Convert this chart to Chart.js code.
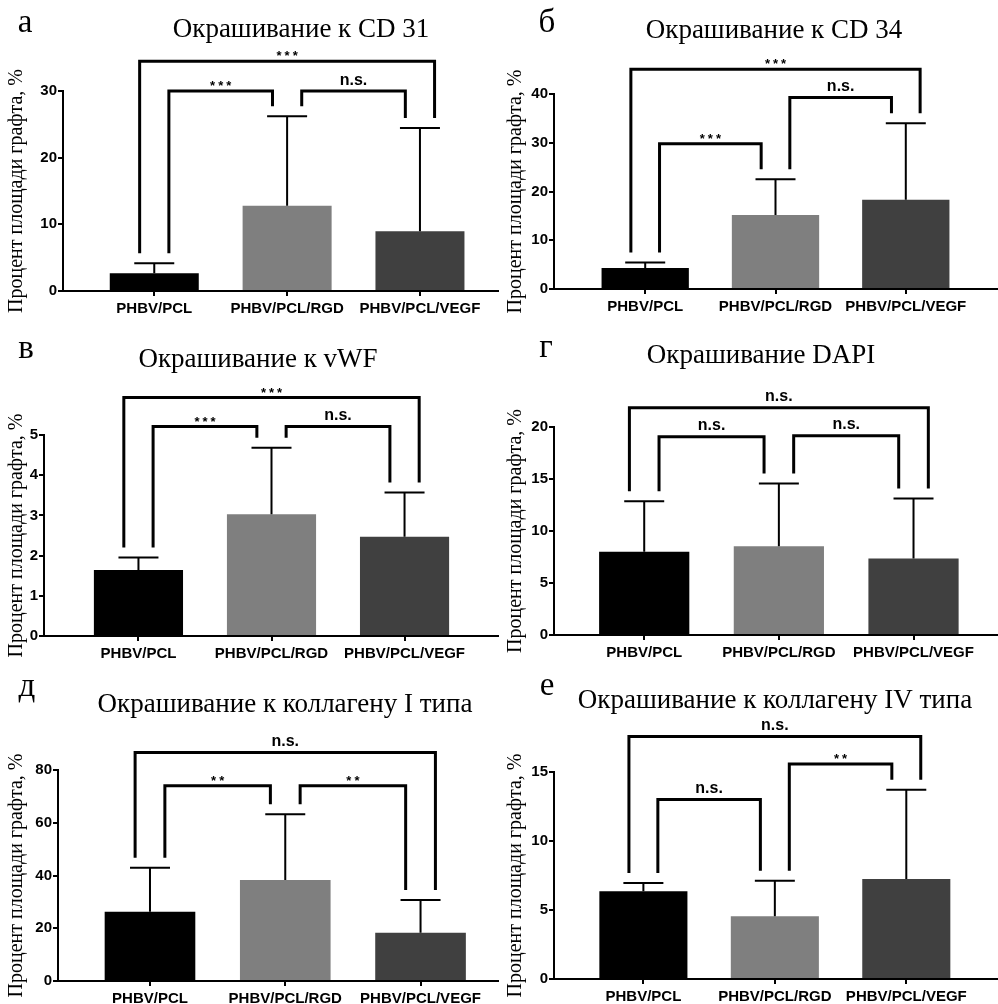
<!DOCTYPE html>
<html>
<head>
<meta charset="utf-8">
<script src="https://cdn.jsdelivr.net/npm/chart.js@4.4.1/dist/chart.umd.min.js"></script>
<style>
  html, body { margin: 0; padding: 0; background: #fff; }
  #wrap { position: relative; width: 998px; height: 1004px; overflow: hidden; }
  canvas { position: absolute; }
</style>
</head>
<body>
<div id="wrap">
  <canvas id="pA" width="499" height="330" style="left:0;top:0"></canvas>
  <canvas id="pB" width="499" height="330" style="left:499px;top:0"></canvas>
  <canvas id="pV" width="499" height="340" style="left:0;top:330px"></canvas>
  <canvas id="pG" width="499" height="340" style="left:499px;top:330px"></canvas>
  <canvas id="pD" width="499" height="334" style="left:0;top:670px"></canvas>
  <canvas id="pE" width="499" height="334" style="left:499px;top:670px"></canvas>
</div>
<script>
let groups = ["PHBV/PCL", "PHBV/PCL/RGD", "PHBV/PCL/VEGF"];
let barColors = ["#000000", "#7f7f7f", "#404040"];
let yTitle = "Процент площади графта, %";

// mean, top of SD bar, y ticks, comparisons [from, to, level, mark]
let cd31Mean = [2.65, 12.8, 8.95];
let cd31Err = [4.15, 26.2, 24.45];
let cd31Ticks = [0, 10, 20, 30];
let cd31Pairs = [[0, 2, 34.45, "***"], [0, 1, 30, "***"], [1, 2, 30, "n.s."]];

let cd34Mean = [4.3, 15.2, 18.3];
let cd34Err = [5.45, 22.5, 34.0];
let cd34Ticks = [0, 10, 20, 30, 40];
let cd34Pairs = [[0, 2, 45.1, "***"], [0, 1, 29.8, "***"], [1, 2, 39.3, "n.s."]];

let vwfMean = [1.64, 3.03, 2.47];
let vwfErr = [1.95, 4.68, 3.57];
let vwfTicks = [0, 1, 2, 3, 4, 5];
let vwfPairs = [[0, 2, 5.93, "***"], [0, 1, 5.21, "***"], [1, 2, 5.21, "n.s."]];

let dapiMean = [8.0, 8.54, 7.36];
let dapiErr = [12.86, 14.56, 13.12];
let dapiTicks = [0, 5, 10, 15, 20];
let dapiPairs = [[0, 2, 21.85, "n.s."], [0, 1, 19.06, "n.s."], [1, 2, 19.17, "n.s."]];

let col1Mean = [26.3, 38.3, 18.3];
let col1Err = [42.96, 63.2, 30.7];
let col1Ticks = [0, 20, 40, 60, 80];
let col1Pairs = [[0, 2, 86.6, "n.s."], [0, 1, 74.05, "**"], [1, 2, 74.05, "**"]];

let col4Mean = [6.35, 4.54, 7.25];
let col4Err = [6.96, 7.12, 13.72];
let col4Ticks = [0, 5, 10, 15];
let col4Pairs = [[0, 2, 17.58, "n.s."], [0, 1, 13.0, "n.s."], [1, 2, 15.58, "**"]];

const panels = [
    { id: "pA", letter: "а", title: "Окрашивание к CD 31", mean: cd31Mean, err: cd31Err, ticks: cd31Ticks, pairs: cd31Pairs,
      left: 63, top: 91, bottom: 291, right: 499, xmin: -0.687, xmax: 2.595, tx: 301, ty: 37, lx: 25, ly: 32 },
    { id: "pB", letter: "б", title: "Окрашивание к CD 34", mean: cd34Mean, err: cd34Err, ticks: cd34Ticks, pairs: cd34Pairs,
      left: 55, top: 94, bottom: 289, right: 498, xmin: -0.70, xmax: 2.70, tx: 275, ty: 38, lx: 48, ly: 32 },
    { id: "pV", letter: "в", title: "Окрашивание к vWF", mean: vwfMean, err: vwfErr, ticks: vwfTicks, pairs: vwfPairs,
      left: 44, top: 105, bottom: 306, right: 499, xmin: -0.71, xmax: 2.71, tx: 258, ty: 37, lx: 26, ly: 28 },
    { id: "pG", letter: "г", title: "Окрашивание DAPI", mean: dapiMean, err: dapiErr, ticks: dapiTicks, pairs: dapiPairs,
      left: 55, top: 97, bottom: 305, right: 498, xmin: -0.67, xmax: 2.62, tx: 262, ty: 33, lx: 47, ly: 27 },
    { id: "pD", letter: "д", title: "Окрашивание к коллагену I типа", mean: col1Mean, err: col1Err, ticks: col1Ticks, pairs: col1Pairs,
      left: 58, top: 100, bottom: 311, right: 499, xmin: -0.68, xmax: 2.58, tx: 285, ty: 42, lx: 27, ly: 26 },
    { id: "pE", letter: "е", title: "Окрашивание к коллагену IV типа", mean: col4Mean, err: col4Err, ticks: col4Ticks, pairs: col4Pairs,
      left: 55, top: 102, bottom: 309, right: 498, xmin: -0.68, xmax: 2.69, tx: 276, ty: 38, lx: 48, ly: 25 }
];

const SANS = "'Liberation Sans', Arial, sans-serif";
const SERIF = "'Liberation Serif', 'Times New Roman', serif";

// error bars, significance brackets, headings
const extras = {
    id: "extras",
    afterDatasetsDraw(chart, args, p) {
        const ctx = chart.ctx;
        const x = chart.scales.x, y = chart.scales.y;
        ctx.save();
        ctx.strokeStyle = "#000";
        ctx.lineWidth = 2;
        p.mean.forEach((m, i) => {
            const cx = x.getPixelForValue(i);
            const top = y.getPixelForValue(p.err[i]);
            ctx.beginPath();
            ctx.moveTo(cx, y.getPixelForValue(m));
            ctx.lineTo(cx, top);
            ctx.moveTo(cx - 20, top);
            ctx.lineTo(cx + 20, top);
            ctx.stroke();
        });
        ctx.lineWidth = 3;
        ctx.fillStyle = "#000";
        ctx.textAlign = "center";
        ctx.textBaseline = "alphabetic";
        p.pairs.forEach(([a, b, level, mark]) => {
            const shift = (b - a === 1) ? 0.11 : -0.11;
            const xa = x.getPixelForValue(a + shift);
            const xb = x.getPixelForValue(b - shift);
            const yl = y.getPixelForValue(level);
            const ya = y.getPixelForValue(p.err[a]) - 10;
            const yb = y.getPixelForValue(p.err[b]) - 10;
            ctx.beginPath();
            ctx.moveTo(xa, ya);
            ctx.lineTo(xa, yl);
            ctx.lineTo(xb, yl);
            ctx.lineTo(xb, yb);
            ctx.stroke();
            const mid = (xa + xb) / 2;
            if (mark.indexOf("*") >= 0) {
                ctx.font = "bold 13px " + SANS;
                ctx.letterSpacing = "3px";
                ctx.fillText(mark, mid + 1.5, yl - 1);
            } else {
                ctx.font = "bold 16px " + SANS;
                ctx.letterSpacing = "0px";
                ctx.fillText(mark, mid, yl - 6.5);
            }
        });
        ctx.letterSpacing = "0px";
        ctx.font = "27px " + SERIF;
        ctx.fillText(p.title, p.tx, p.ty);
        ctx.font = "33px " + SERIF;
        ctx.fillText(p.letter, p.lx, p.ly);
        ctx.restore();
    }
};

function makeChart(p) {
    const canvas = document.getElementById(p.id);
    const W = canvas.width, H = canvas.height;
    new Chart(canvas, {
        type: "bar",
        data: {
            datasets: [{
                data: p.mean.map((v, i) => ({ x: i, y: v })),
                backgroundColor: barColors,
                borderWidth: 0,
                categoryPercentage: 1,
                barPercentage: 0.67
            }]
        },
        options: {
            responsive: false,
            animation: false,
            devicePixelRatio: 1,
            layout: { padding: { top: p.top, right: W - p.right, bottom: 0, left: 0 } },
            plugins: {
                legend: { display: false },
                tooltip: { enabled: false },
                extras: p
            },
            scales: {
                x: {
                    type: "linear",
                    min: p.xmin,
                    max: p.xmax,
                    offset: false,
                    afterBuildTicks: (s) => { s.ticks = groups.map((g, i) => ({ value: i })); },
                    afterFit: (s) => { s.height = H - p.bottom; },
                    ticks: {
                        callback: (v) => groups[v],
                        color: "#000",
                        padding: 4,
                        maxRotation: 0,
                        autoSkip: false,
                        font: { family: SANS, size: 15, weight: "bold" }
                    },
                    grid: { offset: false, drawOnChartArea: false, drawTicks: true, tickLength: 5, color: "#000", lineWidth: 2 },
                    border: { display: true, color: "#000", width: 2 }
                },
                y: {
                    min: 0,
                    max: p.ticks[p.ticks.length - 1],
                    afterBuildTicks: (s) => { s.ticks = p.ticks.map((v) => ({ value: v })); },
                    afterFit: (s) => { s.width = p.left; },
                    ticks: {
                        color: "#000",
                        padding: 1,
                        font: { family: SANS, size: 15, weight: "bold" }
                    },
                    title: {
                        display: true,
                        text: yTitle,
                        color: "#000",
                        padding: { top: 5, bottom: 0 },
                        font: { family: SERIF, size: 20, weight: "normal" }
                    },
                    grid: { drawOnChartArea: false, drawTicks: true, tickLength: 5, color: "#000", lineWidth: 2 },
                    border: { display: true, color: "#000", width: 2 }
                }
            }
        },
        plugins: [extras]
    });
}

panels.forEach(makeChart);
</script>
</body>
</html>
